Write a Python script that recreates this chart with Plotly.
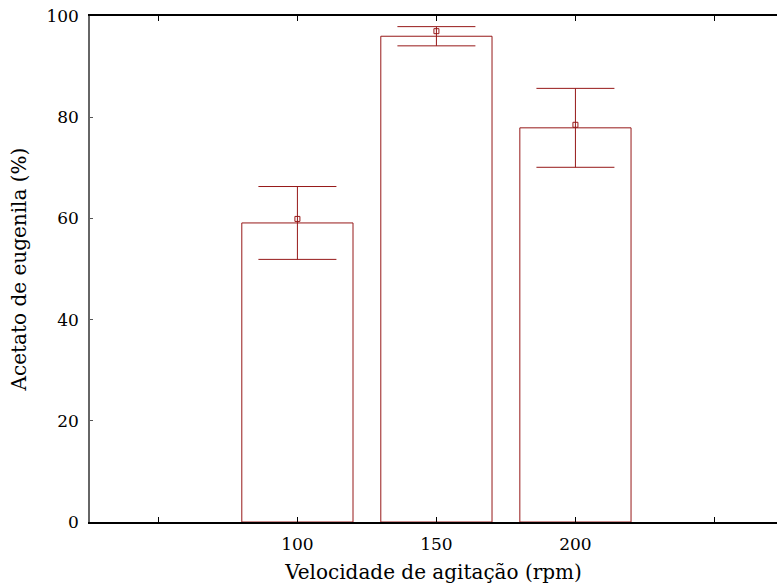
import plotly.graph_objects as go

rpm = [100, 150, 200]
bar_values = [59.1, 96.0, 77.9]
errors = [7.2, 1.9, 7.8]
means = [59.9, 97.0, 78.5]
tick_vals = [50, 100, 150, 200, 250]
tick_text = ["", "100", "150", "200", ""]
y_ticks = [0, 20, 40, 60, 80, 100]

red = "#961818"
font = "DejaVu Serif"

fig = go.Figure()
fig.add_trace(go.Bar(
    x=rpm, y=bar_values, width=40,
    marker=dict(color="white", line=dict(color=red, width=1)),
    error_y=dict(type="data", array=errors, visible=True, color=red, thickness=1, width=39),
    showlegend=False,
))
fig.add_trace(go.Scatter(
    x=rpm, y=means, mode="markers",
    marker=dict(symbol="square-open", size=5, color=red, line=dict(width=1, color=red)),
    showlegend=False,
))

fig.update_layout(
    width=777, height=584,
    margin=dict(l=90, r=0, t=16, b=62),
    paper_bgcolor="white", plot_bgcolor="white",
    font=dict(family=font, size=17, color="black"),
    xaxis=dict(
        range=[25.4, 272.5], tickmode="array", tickvals=tick_vals, ticktext=tick_text,
        ticks="inside", ticklen=5, tickcolor="black", tickwidth=1,
        showline=True, linecolor="black", linewidth=1.5, mirror="ticks",
        showgrid=False, zeroline=False, ticklabelstandoff=6,
        title=dict(text="Velocidade de agitação (rpm)", font=dict(family=font, size=20), standoff=16),
        tickfont=dict(family=font, size=17),
    ),
    yaxis=dict(
        range=[0, 100], tickmode="array", tickvals=y_ticks,
        ticks="inside", ticklen=3, tickcolor="#555", tickwidth=1,
        showline=True, linecolor="#666", linewidth=1.5,
        showgrid=False, zeroline=False, ticklabelstandoff=6,
        title=dict(text="Acetato de eugenila (%)", font=dict(family=font, size=20), standoff=14),
        tickfont=dict(family=font, size=17),
    ),
)

fig.write_html("out.html")
